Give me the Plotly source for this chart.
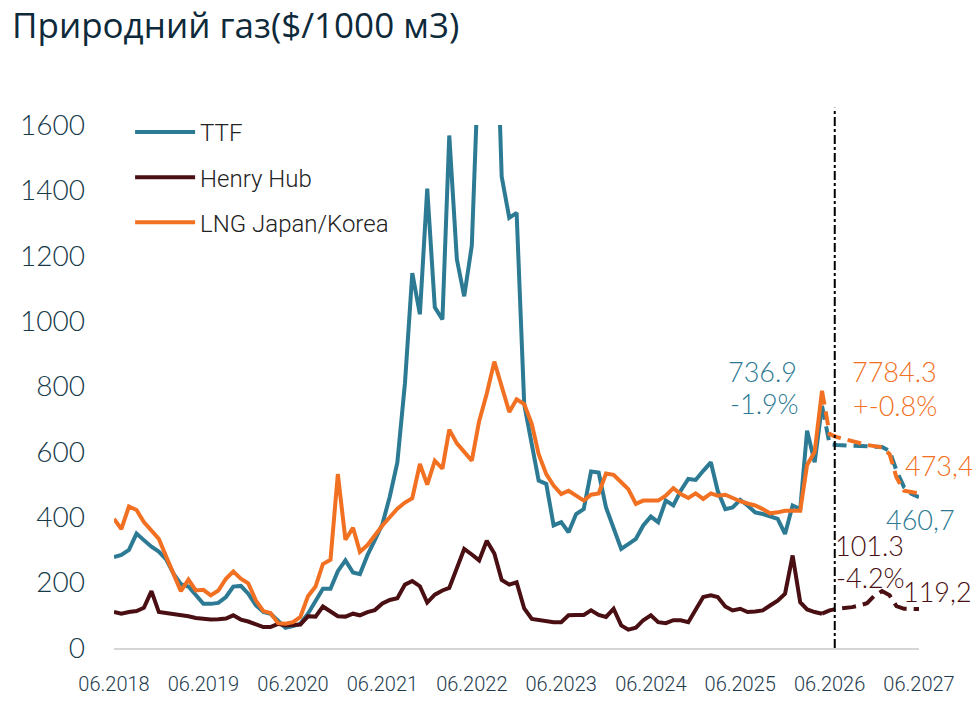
import pandas as pd
import plotly.graph_objects as go

# monthly, 06.2018 .. 05.2026 (fact)
months = pd.date_range("2018-06-01", "2026-05-01", freq="MS")
# forecast, 05.2026 .. 06.2027
months_fc = pd.date_range("2026-05-01", "2027-06-01", freq="MS")

ttf = [278, 285, 300, 350, 330, 310, 295, 270, 225, 195, 188, 162,
       135, 135, 138, 156, 188, 190, 166, 131, 110, 105, 85, 62,
       67, 74, 105, 146, 181, 181, 235, 268, 231, 226, 284, 330,
       379, 463, 568, 810, 1147, 1021, 1405, 1042, 1005, 1568, 1189, 1076,
       1231, 1840, 2500, 2150, 1442, 1316, 1331, 746, 614, 512, 502, 375,
       385, 354, 410, 425, 540, 537, 430, 369, 303, 318, 334, 375,
       402, 385, 451, 436, 481, 517, 514, 542, 568, 481, 425, 430,
       453, 436, 415, 410, 402, 395, 349, 436, 425, 665, 568, 741]
henry_hub = [110, 105, 110, 113, 123, 174, 110, 107, 105, 100, 97, 92,
             88, 87, 88, 90, 100, 87, 81, 72, 64, 64, 74, 69,
             69, 72, 97, 96, 127, 110, 97, 96, 105, 100, 110, 116,
             136, 147, 152, 194, 205, 189, 139, 163, 176, 184, 242, 303,
             286, 268, 328, 289, 208, 194, 201, 121, 89, 86, 84, 79,
             79, 100, 101, 101, 115, 101, 95, 120, 69, 56, 62, 85,
             100, 79, 76, 85, 85, 79, 117, 156, 161, 156, 127, 115,
             120, 110, 112, 115, 130, 145, 166, 283, 140, 118, 110, 105]
lng = [395, 364, 433, 422, 385, 359, 334, 278, 227, 174, 209, 176,
       178, 161, 176, 212, 234, 212, 198, 146, 113, 107, 76, 74,
       79, 95, 158, 188, 257, 270, 532, 331, 368, 294, 315, 345,
       375, 400, 426, 445, 458, 563, 500, 573, 549, 668, 626, 600,
       573, 694, 778, 876, 798, 722, 761, 746, 685, 593, 532, 497,
       471, 481, 466, 451, 469, 473, 534, 530, 507, 486, 441, 451,
       451, 451, 466, 489, 471, 459, 473, 456, 473, 466, 469, 458,
       449, 442, 436, 425, 412, 415, 420, 420, 420, 560, 600, 787]
# прогноз 05.2026 .. 06.2027 (пунктир)
ttf_fc = [741, 624, 621, 620, 620, 619, 618, 617, 615, 603, 543, 492, 472, 461]
henry_hub_fc = [105, 115, 120, 122, 125, 130, 137, 160, 174, 161, 128, 120, 118, 119]
lng_fc = [787, 654, 645, 638, 632, 627, 621, 618, 614, 593, 522, 481, 476, 473]

c_ttf = "#2c7a93"
c_hh = "#4a0f12"
c_lng = "#f27022"

fig = go.Figure()
for name, y, yf, c in [("TTF", ttf, ttf_fc, c_ttf),
                       ("Henry Hub", henry_hub, henry_hub_fc, c_hh),
                       ("LNG Japan/Korea", lng, lng_fc, c_lng)]:
    fig.add_trace(go.Scatter(x=months, y=y, name=name, mode="lines",
                             line=dict(color=c, width=4), legendgroup=name))
    fig.add_trace(go.Scatter(x=months_fc, y=yf, mode="lines", showlegend=False,
                             line=dict(color=c, width=4, dash="14px,7px"), legendgroup=name))

# прогнозна межа
fig.add_shape(type="line", xref="x", yref="paper", x0="2026-06-22", x1="2026-06-22",
              y0=0, y1=1.033, line=dict(color="black", width=2, dash="dashdot"))

ann_font = dict(family="Lato", size=27, weight=300)
labels = [
    (0.805, 847, "736.9", c_ttf), (0.808, 749, "-1.9%", c_ttf),
    (0.970, 847, "7784.3", c_lng), (0.970, 743, "+-0.8%", c_lng),
    (1.025, 557, "473,4", c_lng), (1.002, 392, "460,7", c_ttf),
    (0.938, 315, "101.3", c_hh), (0.940, 216, "-4.2%", c_hh),
    (1.023, 174, "119,2", c_hh),
]
for xp, yv, t, c in labels:
    fig.add_annotation(x=xp, xref="paper", y=yv, yref="y", text=t, showarrow=False,
                       font=dict(color=c, **ann_font), xanchor="center", yanchor="middle")

fig.update_layout(
    width=980, height=712,
    paper_bgcolor="white", plot_bgcolor="white",
    margin=dict(l=99, r=69, t=117, b=72),
    title=dict(text="Природний газ($/1000 м3)", x=0, xref="container", xanchor="left",
               y=1, yanchor="top", pad=dict(l=4, t=5),
               font=dict(family="Open Sans", size=35, color="#0e2a3a")),
    legend=dict(x=0.02, y=1.029, xanchor="left", yanchor="top", tracegroupgap=11,
                itemwidth=60, bgcolor="rgba(0,0,0,0)",
                font=dict(family="Roboto", size=24, weight=300, color="#222222")),
    showlegend=True,
)

fig.update_xaxes(type="date", range=["2018-06-01", "2027-06-01"],
                 tick0="2018-06-01", dtick="M12", tickformat="%m.%Y",
                 showgrid=False, zeroline=False, showline=True, linecolor="#d6d6d6",
                 linewidth=2, ticks="", ticklabelstandoff=17,
                 tickfont=dict(family="Roboto", size=20, weight=300, color="#1d3a4d"))
fig.update_yaxes(range=[0, 1600], dtick=200, showgrid=False, zeroline=False,
                 showline=False, ticks="", ticklabelstandoff=28,
                 tickfont=dict(family="Lato", size=28, weight=300, color="#163a4a"))

fig.write_html("out.html")
